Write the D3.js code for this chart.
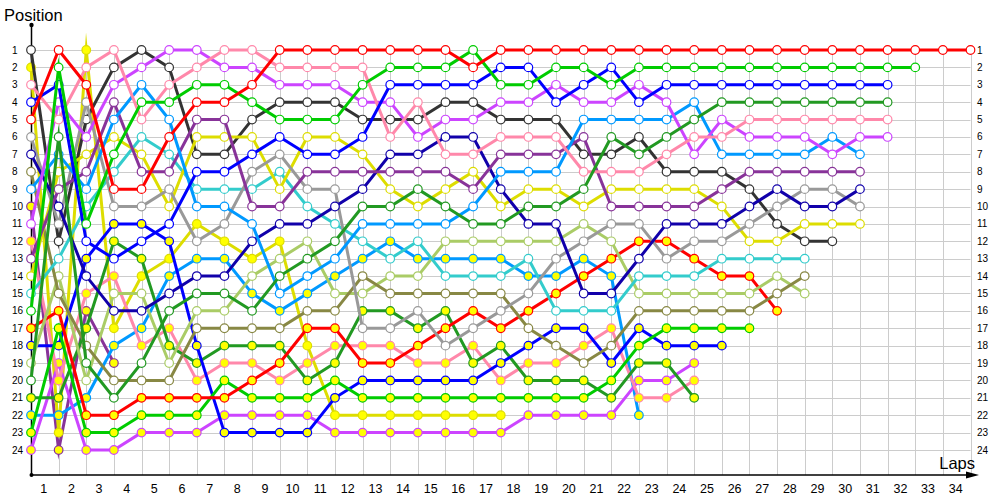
<!DOCTYPE html>
<html>
<head>
<meta charset="utf-8">
<script src="https://cdn.jsdelivr.net/npm/d3@7"></script>
<style>
  body { margin: 0; background: #fff; }
  svg { display: block; font-family: "Liberation Sans", Arial, sans-serif; }
</style>
</head>
<body>
<svg width="1000" height="500"></svg>
<script>
// race positions, index = lap (0 = grid)
var red      = [5,1,3,9,9,6,4,4,3,1,1,1,1,1,1,1,2,1,1,1,1,1,1,1,1,1,1,1,1,1,1,1,1,1,1];
var green    = [16,2,11,7,4,4,3,3,4,5,5,5,3,2,2,2,1,3,3,2,2,3,2,2,2,2,2,2,2,2,2,2,2];
var blue     = [4,3,12,13,12,11,8,8,7,6,7,7,6,3,3,3,3,2,2,4,3,2,4,3,3,3,3,3,3,3,3,3];
var dkgreen  = [20,6,19,21,19,16,15,15,16,14,13,12,10,10,9,10,11,11,10,10,9,6,7,6,5,4,4,4,4,4,4,4];
var pink     = [3,5,2,1,5,3,2,1,1,2,2,2,2,6,4,7,7,6,6,6,8,8,8,7,6,6,5,5,5,5,5,5];
var magenta  = [11,4,6,3,2,1,1,2,2,3,3,3,4,4,6,5,5,4,4,3,4,4,3,4,7,5,6,6,6,7,6,6];
var ltblue   = [9,7,9,5,3,5,10,10,11,15,14,13,11,11,11,11,10,8,8,8,5,5,5,5,4,7,7,7,7,6,7];
var dkpurple = [13,9,8,4,8,8,5,5,10,10,8,8,8,8,8,8,9,7,7,7,6,10,10,10,10,9,8,8,8,8,8];
var dkblue   = [7,10,14,16,16,15,14,14,12,11,11,10,9,7,7,6,6,9,11,11,15,15,13,11,11,11,10,9,10,10,9];
var gray     = [6,11,4,10,10,9,12,11,8,7,9,9,17,17,16,18,17,16,15,13,12,11,11,13,12,12,11,10,9,9,10];
var yellow   = [14,8,7,6,7,10,6,6,6,9,6,6,7,9,10,9,8,10,9,9,10,9,9,9,9,10,12,12,11,11,11];
var black    = [1,12,5,2,1,2,7,7,5,4,4,4,5,5,5,4,4,5,5,5,7,7,6,8,8,8,9,11,12,12];
var cyan     = [15,13,10,8,6,7,9,9,9,8,10,11,12,13,12,14,14,14,13,16,16,16,14,14,14,13,13,13,13];
var olive    = [8,15,18,20,20,20,17,17,17,17,16,16,14,15,15,15,15,15,17,18,19,18,16,16,16,16,16,15,14];
var ltgreen  = [19,14,20,15,15,19,16,16,14,13,12,15,15,14,14,12,12,12,12,12,11,12,15,15,15,15,15,14,15];
// second drivers (yellow markers)
var red2      = [17,16,22,22,21,21,21,21,20,19,17,17,19,19,18,17,16,17,16,15,14,13,12,12,13,14,14,16];
var green2    = [23,17,23,23,22,22,22,20,21,21,21,20,21,21,21,21,21,21,21,21,21,20,18,17,17,17,17];
var blue2     = [18,18,13,11,11,12,18,23,23,23,23,21,20,20,20,20,20,19,18,17,17,19,17,18,18,18];
var dkgreen2  = [21,21,17,12,13,18,19,18,18,18,20,19,16,16,17,16,19,18,20,20,20,21,19,19,21];
var pink2     = [12,20,15,14,18,17,20,19,19,20,19,18,18,18,19,19,18,20,19,19,18,17,21,21,20];
var magenta2  = [24,19,24,24,23,23,23,22,22,22,22,23,23,23,23,23,23,23,22,22,22,22,20,20,19];
var ltblue2   = [22,22,21,18,17,14,13,13,15,16,15,14,13,12,13,13,13,13,14,14,13,14,22];
var yellow2   = [2,23,1,17,14,13,11,12,13,12,18,22,22,22,22,22,22,22];
var dkpurple2 = [10,24,16,19];

var laps = d3.range(1, 35);
var positions = d3.range(1, 25);

// drawn back to front
var series = [
  {c: "#883399", f: true,  v: dkpurple2},
  {c: "#dddd00", f: true,  v: yellow2},
  {c: "#0099ff", f: true,  v: ltblue2},
  {c: "#cc44ff", f: true,  v: magenta2},
  {c: "#ff88aa", f: true,  v: pink2},
  {c: "#229922", f: true,  v: dkgreen2},
  {c: "#0000ff", f: true,  v: blue2},
  {c: "#00cc00", f: true,  v: green2},
  {c: "#ff0000", f: true,  v: red2},
  {c: "#aacc66", f: false, v: ltgreen},
  {c: "#888844", f: false, v: olive},
  {c: "#33cccc", f: false, v: cyan},
  {c: "#333333", f: false, v: black},
  {c: "#dddd00", f: false, v: yellow},
  {c: "#999999", f: false, v: gray},
  {c: "#1100aa", f: false, v: dkblue},
  {c: "#883399", f: false, v: dkpurple},
  {c: "#0099ff", f: false, v: ltblue},
  {c: "#cc44ff", f: false, v: magenta},
  {c: "#ff88aa", f: false, v: pink},
  {c: "#229922", f: false, v: dkgreen},
  {c: "#0000ff", f: false, v: blue},
  {c: "#00cc00", f: false, v: green},
  {c: "#ff0000", f: false, v: red}
];

var svg = d3.select("svg");

var x = d3.scaleLinear().domain([0, 34]).range([31, 970.5]);
var y = d3.scaleLinear().domain([1, 24]).range([50, 450]);
var axisY = 475;

// grid
var grid = svg.append("g").attr("stroke", "#cccccc").attr("stroke-width", 1);
grid.selectAll(".v").data(laps).enter().append("line")
    .attr("x1", function(d) { return Math.round(x(d)) + 0.5; })
    .attr("x2", function(d) { return Math.round(x(d)) + 0.5; })
    .attr("y1", 46).attr("y2", axisY);
grid.selectAll(".h").data(positions).enter().append("line")
    .attr("x1", x(0)).attr("x2", x(34))
    .attr("y1", function(d) { return Math.round(y(d)) + 0.5; })
    .attr("y2", function(d) { return Math.round(y(d)) + 0.5; });

// position labels, both sides
svg.append("g").selectAll("text").data(positions).enter().append("text")
    .attr("x", 12).attr("y", function(d) { return y(d) + 3.5; })
    .attr("font-size", 10).text(function(d) { return d; });
svg.append("g").selectAll("text").data(positions).enter().append("text")
    .attr("x", 977).attr("y", function(d) { return y(d) + 3.5; })
    .attr("font-size", 10).text(function(d) { return d; });

// lap labels between grid lines
svg.append("g").selectAll("text").data(laps).enter().append("text")
    .attr("x", function(d) { return x(d - 0.5) - 1; })
    .attr("y", 493)
    .attr("text-anchor", "middle")
    .attr("font-size", 12.5)
    .text(function(d) { return d; });

// axes
svg.append("line").attr("x1", 31.5).attr("x2", 31.5).attr("y1", 25).attr("y2", axisY)
    .attr("stroke", "#000").attr("stroke-width", 1.5);
svg.append("line").attr("x1", 31).attr("x2", 970).attr("y1", axisY).attr("y2", axisY)
    .attr("stroke", "#000").attr("stroke-width", 1.5);
svg.append("path").attr("d", "M966,471.5L979,475L966,478.5Z").attr("fill", "#000");
svg.append("circle").attr("cx", 31.5).attr("cy", 25).attr("r", 2.2).attr("fill", "#000");
svg.append("circle").attr("cx", 31.5).attr("cy", axisY).attr("r", 2).attr("fill", "#000");

svg.append("text").attr("x", 4).attr("y", 21).attr("font-size", 16.5).text("Position");
svg.append("text").attr("x", 975).attr("y", 469).attr("text-anchor", "end")
    .attr("font-size", 16.5).text("Laps");

// series
var line = d3.line()
    .x(function(d, i) { return x(i); })
    .y(function(d) { return y(d); });

var g = svg.selectAll(".driver").data(series).enter().append("g").attr("class", "driver");

g.append("path")
    .attr("d", function(d) { return line(d.v); })
    .attr("fill", "none")
    .attr("stroke", function(d) { return d.c; })
    .attr("stroke-width", 3)
    .attr("stroke-miterlimit", 12);

g.selectAll("circle")
    .data(function(d) { return d.v.map(function(p, i) { return {lap: i, pos: p, c: d.c, f: d.f}; }); })
    .enter().append("circle")
    .attr("cx", function(d) { return x(d.lap); })
    .attr("cy", function(d) { return y(d.pos); })
    .attr("r", 4.3)
    .attr("fill", function(d) { return d.f ? "#ffff00" : "#fff"; })
    .attr("stroke", function(d) { return d.c; })
    .attr("stroke-width", 1.2);
</script>
</body>
</html>
